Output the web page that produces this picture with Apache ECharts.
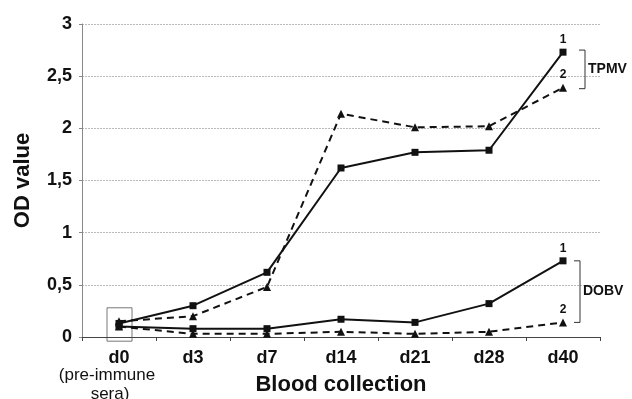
<!DOCTYPE html>
<html><head><meta charset="utf-8">
<script src="https://cdn.jsdelivr.net/npm/echarts@6/dist/echarts.min.js"></script>
<style>html,body{margin:0;padding:0;background:#fff}#c{width:632px;height:399px}</style>
</head><body><div id="c"></div>
<script>
const categories = ['d0','d3','d7','d14','d21','d28','d40'];
const tpmv1 = [0.13, 0.30, 0.62, 1.62, 1.77, 1.79, 2.73];
const tpmv2 = [0.15, 0.20, 0.48, 2.14, 2.01, 2.02, 2.39];
const dobv1 = [0.10, 0.08, 0.08, 0.17, 0.14, 0.32, 0.73];
const dobv2 = [0.10, 0.03, 0.03, 0.05, 0.03, 0.05, 0.14];
const yTicks = [0, 0.5, 1, 1.5, 2, 2.5, 3];

const FF = '"Liberation Sans", Arial, sans-serif';
const chart = echarts.init(document.getElementById('c'));

function mk(name, data, solid, symbol, size, tag) {
  return {
    name, type: 'line', data,
    symbol, symbolSize: size,
    lineStyle: {color: '#111', width: 2, type: solid ? 'solid' : [7, 5]},
    itemStyle: {color: '#111'},
    label: {
      show: true, position: 'top', distance: 3,
      color: '#111', fontFamily: FF, fontWeight: 'bold', fontSize: 12,
      formatter: p => p.dataIndex === data.length - 1 ? tag : ''
    },
    z: solid ? 3 : 2, animation: false
  };
}

chart.setOption({
  animation: false,
  grid: {left: 82, right: 32, top: 24, bottom: 62, containLabel: false, outerBoundsMode: 'none'},
  xAxis: {
    type: 'category', data: categories, boundaryGap: true,
    axisLine: {lineStyle: {color: '#444', width: 1}},
    axisTick: {show: true, length: 4, lineStyle: {color: '#444'}},
    axisLabel: {
      color: '#111', fontFamily: FF, fontWeight: 'bold', fontSize: 18, margin: 12
    },
    name: 'Blood collection', nameLocation: 'middle', nameGap: 37,
    nameTextStyle: {color: '#111', fontFamily: FF, fontWeight: 'bold', fontSize: 22}
  },
  yAxis: {
    type: 'value', min: 0, max: 3, interval: 0.5,
    axisLine: {show: true, lineStyle: {color: '#888', width: 1}},
    axisTick: {show: true, length: 3, lineStyle: {color: '#888'}},
    splitLine: {lineStyle: {color: '#bbb', width: 1, type: [2, 1]}},
    axisLabel: {
      color: '#111', fontFamily: FF, fontWeight: 'bold', fontSize: 18, margin: 10,
      formatter: v => String(v).replace('.', ',')
    },
    name: 'OD value', nameLocation: 'middle', nameGap: 48,
    nameTextStyle: {color: '#111', fontFamily: FF, fontWeight: 'bold', fontSize: 22}
  },
  series: [
    mk('TPMV 1', tpmv1, true, 'rect', 7, '1'),
    mk('TPMV 2', tpmv2, false, 'triangle', 8, '2'),
    mk('DOBV 1', dobv1, true, 'rect', 7, '1'),
    mk('DOBV 2', dobv2, false, 'triangle', 8, '2')
  ]
});

function px(i, v) { return chart.convertToPixel({xAxisIndex: 0, yAxisIndex: 0}, [i, v]); }
const last = categories.length - 1;
function bracket(top, bot, dx, text) {
  const a = px(last, top), b = px(last, bot);
  const x0 = a[0] + dx, x1 = x0 + 6;
  return [
    {type: 'polyline', shape: {points: [[x0, a[1]], [x1, a[1]], [x1, b[1]], [x0, b[1]]]},
     style: {stroke: '#333', lineWidth: 1, fill: null}},
    {type: 'text', style: {text, x: x1 + 3, y: (a[1] + b[1]) / 2, verticalAlign: 'middle',
     fill: '#111', font: 'bold 14px ' + FF}}
  ];
}
const r0 = px(0, 0.28), r1 = px(0, -0.04);
chart.setOption({graphic: [
  ...bracket(2.75, 2.38, 16, 'TPMV'),
  ...bracket(0.73, 0.14, 11, 'DOBV'),
  {type: 'rect', shape: {x: r0[0] - 12, y: r0[1], width: 25, height: r1[1] - r0[1]},
   style: {stroke: '#777', lineWidth: 1, fill: null}},
  {type: 'text', style: {text: '(pre-immune', x: 107, y: 375, align: 'center',
   verticalAlign: 'middle', fill: '#111', font: '17px ' + FF}},
  {type: 'text', style: {text: 'sera)', x: 110, y: 394, align: 'center',
   verticalAlign: 'middle', fill: '#111', font: '17px ' + FF}}
]});
</script></body></html>
